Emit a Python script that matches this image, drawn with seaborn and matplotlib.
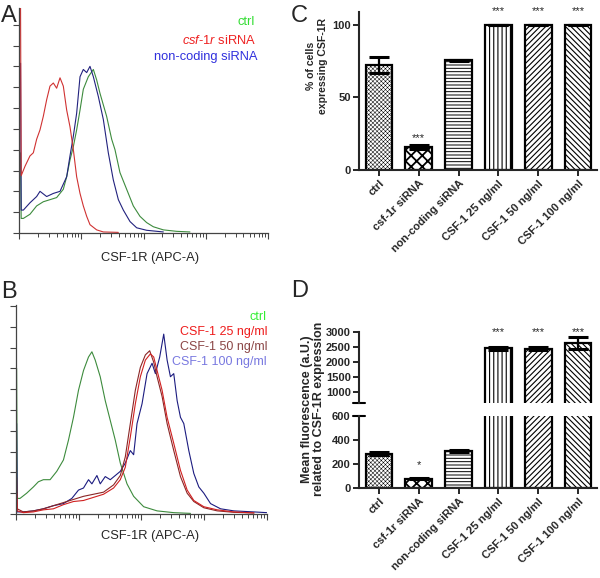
import numpy as np
import pandas as pd
import matplotlib
matplotlib.use("Agg")
import matplotlib.pyplot as plt
import seaborn as sns

sns.set_style("ticks")
plt.rcParams["font.family"] = ["Liberation Sans", "DejaVu Sans"]
plt.rcParams["mathtext.fontset"] = "custom"
plt.rcParams["mathtext.it"] = "Liberation Sans:italic"
plt.rcParams["mathtext.rm"] = "Liberation Sans"
plt.rcParams["hatch.linewidth"] = 0.6

# ---------------- Panel A: flow histograms (log10 APC-A, counts) ----------------
a_ctrl_log = [1.025, 1.035, 1.07, 1.176, 1.283, 1.39, 1.497, 1.604, 1.711, 1.765, 1.818, 1.872,
              1.925, 1.979, 2.032, 2.112, 2.193, 2.246, 2.30, 2.406, 2.487, 2.54, 2.62, 2.727,
              2.834, 2.941, 3.048, 3.155, 3.316, 3.529, 3.743]
a_ctrl_cnt = [77, 14, 14, 18, 26, 30, 32, 34, 42, 54, 70, 83, 99, 118, 138, 150, 157, 147, 134,
              112, 90, 80, 58, 42, 26, 16, 10, 6, 3, 1.6, 1]
a_kd_log = [1.025, 1.035, 1.096, 1.176, 1.23, 1.283, 1.337, 1.39, 1.444, 1.497, 1.551, 1.604,
            1.658, 1.711, 1.765, 1.818, 1.872, 1.925, 1.979, 2.032, 2.086, 2.139, 2.246, 2.353, 2.594]
a_kd_cnt = [216, 55, 64, 74, 77, 90, 99, 112, 128, 141, 144, 139, 149, 141, 118, 102, 80, 54,
            38, 26, 16, 8, 3, 1, 0.6]
a_nc_log = [1.025, 1.035, 1.07, 1.176, 1.283, 1.337, 1.444, 1.551, 1.658, 1.765, 1.818, 1.872,
            1.925, 1.979, 2.032, 2.086, 2.139, 2.193, 2.273, 2.353, 2.433, 2.513, 2.594, 2.674,
            2.781, 2.888, 3.048, 3.316]
a_nc_cnt = [163, 22, 22, 29, 35, 40, 35, 38, 40, 54, 74, 93, 115, 150, 157, 154, 160, 150, 131,
            109, 77, 51, 32, 22, 11, 5, 2.6, 1]
a_labels = ["ctrl", "csf-1r siRNA", "non-coding siRNA"]

# ---------------- Panel B ----------------
b_ctrl_log = [1.01, 1.02, 1.064, 1.17, 1.277, 1.357, 1.437, 1.544, 1.65, 1.757, 1.837, 1.917,
              1.997, 2.077, 2.157, 2.211, 2.264, 2.344, 2.424, 2.504, 2.584, 2.664, 2.771, 2.877,
              3.037, 3.251, 3.517, 3.784]
b_ctrl_cnt = [140, 15, 15, 20, 26, 31, 33, 33, 41, 52, 71, 93, 119, 138, 151, 156, 148, 132,
              109, 90, 71, 49, 29, 17, 7, 3, 1.3, 0.6]
b_25_log = [1.01, 1.02, 1.117, 1.277, 1.437, 1.597, 1.757, 1.917, 2.077, 2.237, 2.397, 2.557,
            2.664, 2.744, 2.824, 2.904, 2.984, 3.064, 3.144, 3.197, 3.251, 3.331, 3.411, 3.517,
            3.624, 3.731, 3.837, 3.997, 4.211, 4.477, 4.797]
b_25_cnt = [20, 3, 1.3, 2, 4, 5, 9, 12, 13, 16, 19, 25, 33, 45, 74, 106, 132, 148, 154, 151,
            138, 119, 93, 68, 42, 23, 13, 7, 4, 2, 1]
b_50_log = [1.01, 1.02, 1.117, 1.277, 1.437, 1.597, 1.757, 1.917, 2.077, 2.237, 2.397, 2.557,
            2.664, 2.744, 2.824, 2.904, 2.984, 3.064, 3.133, 3.197, 3.251, 3.331, 3.411, 3.517,
            3.624, 3.731, 3.837, 3.997, 4.211, 4.477, 4.797]
b_50_cnt = [35, 5, 2, 3, 5, 8, 11, 14, 17, 19, 21, 28, 37, 55, 87, 119, 141, 153, 157, 146,
            132, 113, 87, 61, 36, 20, 12, 6, 3, 1.6, 1]
b_100_log = [1.01, 1.02, 1.117, 1.277, 1.437, 1.597, 1.757, 1.891, 1.997, 2.077, 2.157, 2.211,
             2.291, 2.344, 2.424, 2.504, 2.584, 2.664, 2.744, 2.824, 2.877, 2.931, 3.011, 3.091,
             3.171, 3.224, 3.293, 3.357, 3.411, 3.464, 3.517, 3.571, 3.624, 3.677, 3.757, 3.837,
             3.917, 3.997, 4.104, 4.264, 4.477, 4.797, 5.0]
b_100_cnt = [87, 2, 2, 3, 5, 8, 10, 15, 23, 25, 33, 29, 37, 29, 36, 33, 37, 41, 49, 61, 57, 87,
             106, 135, 145, 135, 151, 173, 148, 132, 135, 109, 93, 87, 61, 39, 26, 20, 10, 5, 3,
             2, 1.3]
b_labels = ["ctrl", "CSF-1 25 ng/ml", "CSF-1 50 ng/ml", "CSF-1 100 ng/ml"]

# ---------------- Panels C and D: bars ----------------
cats = ["ctrl", "csf-1r siRNA", "non-coding siRNA", "CSF-1 25 ng/ml", "CSF-1 50 ng/ml",
        "CSF-1 100 ng/ml"]
pct = [72, 16, 75.5, 100, 100, 100]
pct_err = [5.5, 1.2, 0.4, 0, 0, 0]
pct_sig = ["", "***", "", "***", "***", "***"]
mfi = [285, 78, 306, 2455, 2435, 2630]
mfi_err = [15, 5, 10, 50, 55, 200]
mfi_sig = ["", "*", "", "***", "***", "***"]

hatches = ["xxxxxxxx", "xxx", "-----", "||||", "//////", "\\\\\\\\\\\\"]
hatch_lw = [0.35, 1.3, 0.7, 0.8, 0.8, 0.8]

W, H = 600, 578
fig = plt.figure(figsize=(6, 5.78), dpi=100)


def fx(px):
    return px / W


def fy(py):
    return 1 - py / H


def hist_axes(rect, ymax):
    ax = fig.add_axes(rect)
    ax.set_xscale("log")
    ax.set_xlim(10, 1e5)
    ax.set_ylim(0, ymax)
    ax.set_yticks(np.arange(0, ymax, 20))
    sns.despine(ax=ax)
    for s in ("left", "bottom"):
        ax.spines[s].set_color("#444444")
        ax.spines[s].set_linewidth(0.9)
    ax.tick_params(which="major", length=4, width=0.8, color="#444444",
                   labelbottom=False, labelleft=False)
    ax.tick_params(which="minor", length=3, width=0.7, color="#444444")
    return ax


# Panel A
axA = hist_axes([fx(19), fy(233), fx(249.3), 225 / H], 216)
for lg, ct, col in [(a_ctrl_log, a_ctrl_cnt, "#3d8b3d"), (a_nc_log, a_nc_cnt, "#22227e"),
                    (a_kd_log, a_kd_cnt, "#d03232")]:
    sns.lineplot(x=10 ** np.array(lg), y=ct, sort=False, estimator=None, color=col,
                 lw=0.8, ax=axA)
axA.set_xlabel("")
axA.set_ylabel("")
fig.text(fx(150.5), fy(258), "CSF-1R (APC-A)", ha="center", va="center", fontsize=9.3)
fig.text(fx(255), fy(21.7), a_labels[0], color="#33dd33", ha="right", va="center", fontsize=9.3)
fig.text(fx(256), fy(40), r"$\mathit{csf}$-$\mathit{1r}$ siRNA", color="#ee2222", ha="right",
         va="center", fontsize=9.3)
fig.text(fx(258), fy(57), a_labels[2], color="#3030dd", ha="right", va="center", fontsize=9.3)

# Panel B
axB = hist_axes([fx(16), fy(514), fx(250.7), 209 / H], 201)
for lg, ct, col in [(b_ctrl_log, b_ctrl_cnt, "#3d8b3d"), (b_100_log, b_100_cnt, "#1c1c80"),
                    (b_50_log, b_50_cnt, "#8a2626"), (b_25_log, b_25_cnt, "#d02020")]:
    sns.lineplot(x=10 ** np.array(lg), y=ct, sort=False, estimator=None, color=col,
                 lw=0.8, ax=axB)
axB.set_xlabel("")
axB.set_ylabel("")
fig.text(fx(150), fy(536.5), "CSF-1R (APC-A)", ha="center", va="center", fontsize=9.3)
for txt, py, col in zip(b_labels, [316.5, 332, 347, 362],
                        ["#33ee33", "#ee1c1c", "#8b4646", "#7878e0"]):
    fig.text(fx(267), fy(py), txt, color=col, ha="right", va="center", fontsize=9)

# Panel letters
for lt, px, py in [("A", 1, 16), ("B", 1, 292), ("C", 291, 16), ("D", 291, 291)]:
    fig.text(fx(px), fy(py), lt, ha="left", va="center", fontsize=17)


def bar_panel(ax, vals, errs, lw=1.6):
    df = pd.DataFrame({"cat": cats, "val": vals})
    sns.barplot(data=df, x="cat", y="val", order=cats, width=0.67, color="white",
                edgecolor="black", linewidth=lw, errorbar=None, ax=ax)
    for p, h, hl in zip(ax.patches, hatches, hatch_lw):
        p.set_facecolor("white")
        p.set_hatch(h)
        if hasattr(p, "set_hatch_linewidth"):
            p.set_hatch_linewidth(hl)
    ax.errorbar(np.arange(len(cats)), vals, yerr=errs, fmt="none", ecolor="black",
                elinewidth=1.6, capsize=7.5, capthick=2.2, zorder=5)
    ax.set_xlabel("")
    ax.set_ylabel("")
    sns.despine(ax=ax)
    for s in ("left", "bottom"):
        ax.spines[s].set_linewidth(1.5)
    ax.tick_params(length=4.5, width=1.4, labelsize=8, pad=1.5)


def set_xlabels(ax):
    ax.set_xticks(range(len(cats)))
    ax.set_xticklabels(cats, rotation=45, ha="right", rotation_mode="anchor",
                       fontweight="bold", fontsize=8)


XL = (-0.503, 5.477)

# Panel C
axC = fig.add_axes([fx(359), fy(170), fx(238), 158.3 / H])
bar_panel(axC, pct, pct_err)
axC.set_ylim(0, 109)
axC.set_xlim(*XL)
axC.set_yticks([0, 50, 100])
axC.set_yticklabels(["0", "50", "100"], fontweight="bold", fontsize=8)
set_xlabels(axC)
fig.text(fx(317), fy(66), "% of cells\nexpressing CSF-1R", rotation=90, ha="center",
         va="center", fontweight="bold", fontsize=7.6, linespacing=1.2)
for i, s in enumerate(pct_sig):
    if not s:
        continue
    if pct[i] + pct_err[i] > 90:
        axC.text(i, 1.005, s, transform=axC.get_xaxis_transform(), ha="center", va="center",
                 fontsize=8)
    else:
        axC.annotate(s, (i, pct[i] + pct_err[i]), xytext=(0, 5), textcoords="offset points",
                     ha="center", va="center", fontsize=8)

# Panel D (broken axis)
axDl = fig.add_axes([fx(359), fy(488), fx(238), 72.3 / H])
axDu = fig.add_axes([fx(359), fy(403.3), fx(238), 71.6 / H])
bar_panel(axDl, mfi, mfi_err)
bar_panel(axDu, mfi, mfi_err)
axDl.set_ylim(0, 600)
axDl.set_xlim(*XL)
axDl.set_yticks([0, 200, 400, 600])
axDl.set_yticklabels(["0", "200", "400", "600"], fontweight="bold", fontsize=8)
set_xlabels(axDl)
axDu.set_ylim(610, 3000)
axDu.set_xlim(*XL)
axDu.set_yticks([1000, 1500, 2000, 2500, 3000])
axDu.set_yticklabels(["1000", "1500", "2000", "2500", "3000"], fontweight="bold", fontsize=8)
axDu.spines["bottom"].set_visible(False)
axDu.tick_params(axis="x", bottom=False, labelbottom=False)
for ax, yv in [(axDu, 0), (axDl, 1)]:
    ax.plot([-0.025, 0.025], [yv, yv], transform=ax.transAxes, color="black", lw=1.5,
            clip_on=False)
fig.text(fx(313), fy(409), "Mean fluorescence (a.U.)\nrelated to CSF-1R expression",
         rotation=90, ha="center", va="center", fontweight="bold", fontsize=9, linespacing=1.1)
for i, s in enumerate(mfi_sig):
    if not s:
        continue
    if mfi[i] > 600:
        axDu.text(i, 1.0, s, transform=axDu.get_xaxis_transform(), ha="center", va="center",
                  fontsize=8)
    else:
        axDl.annotate(s, (i, mfi[i] + mfi_err[i]), xytext=(0, 9), textcoords="offset points",
                      ha="center", va="center", fontsize=8)

fig.savefig("out.png", dpi=100)
